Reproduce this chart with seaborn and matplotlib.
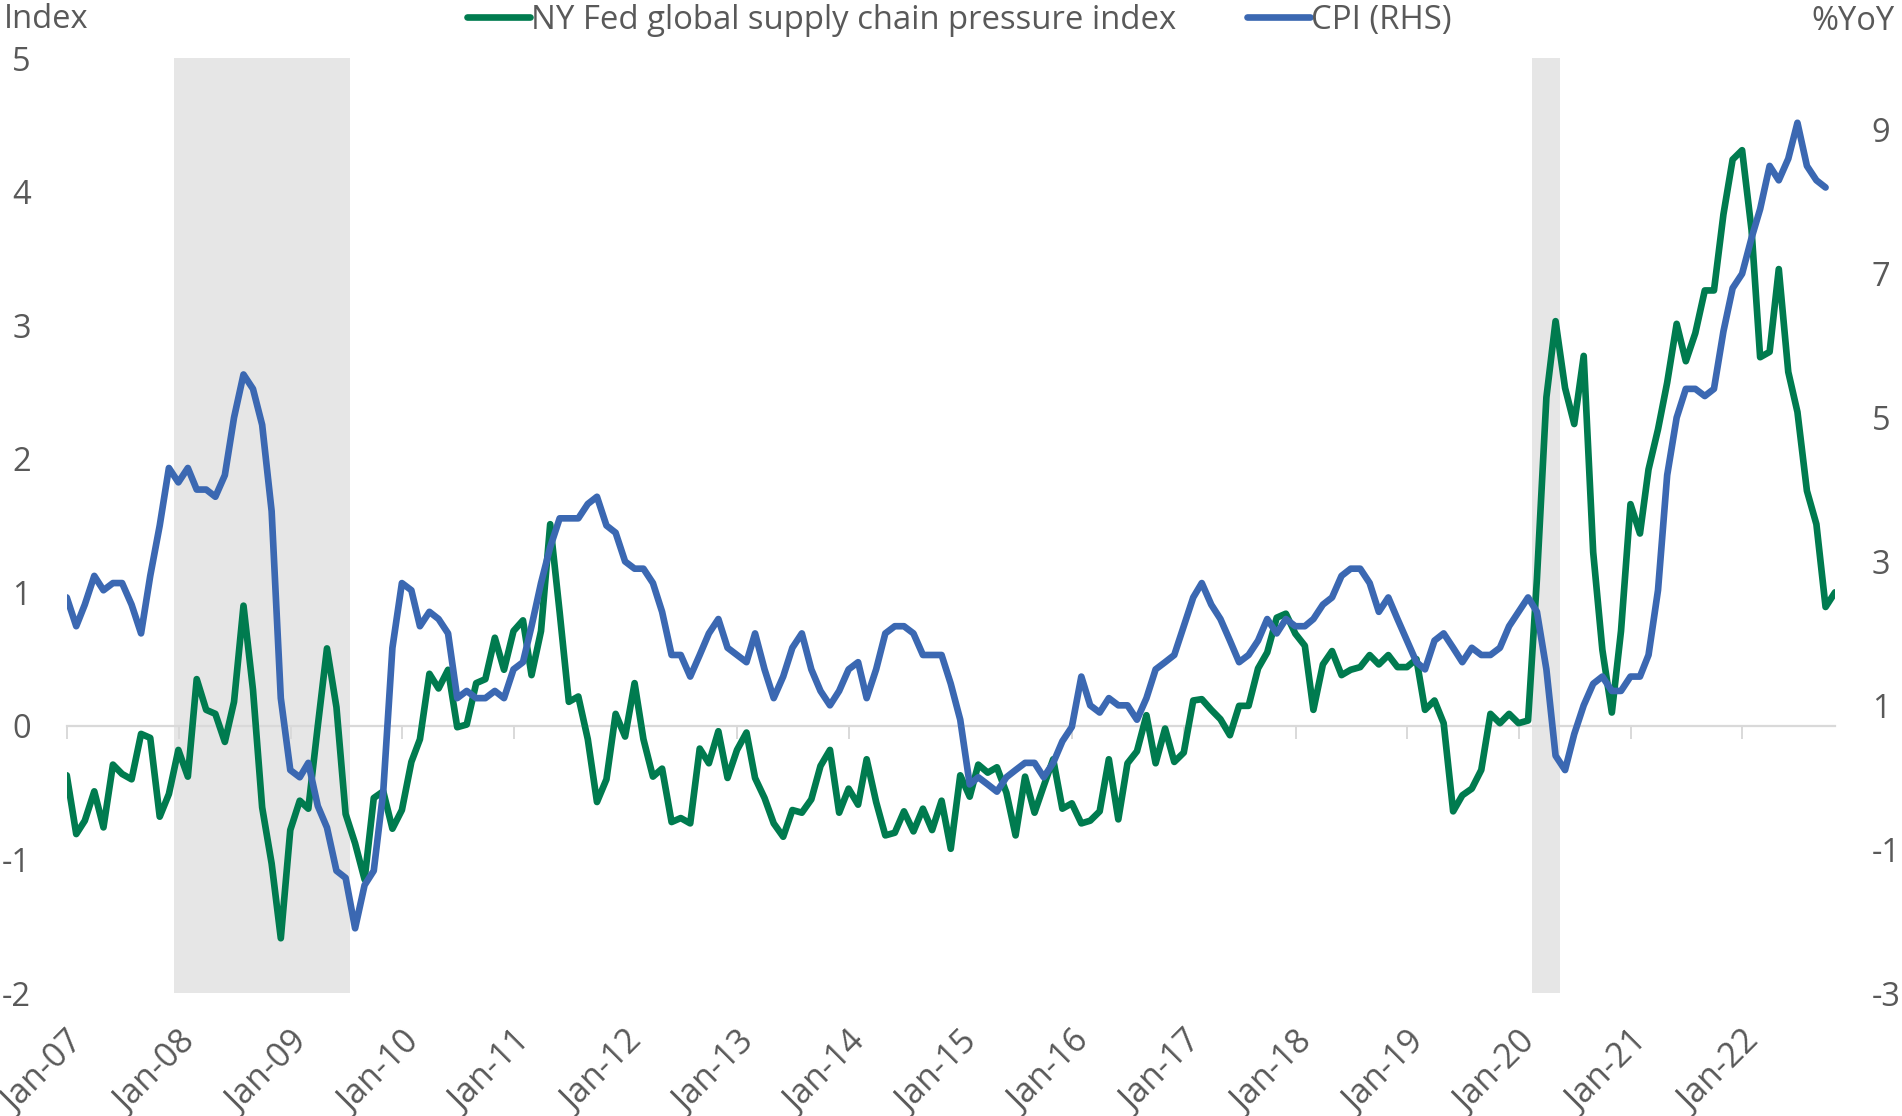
import numpy as np
import pandas as pd
import matplotlib
matplotlib.use("Agg")
import matplotlib.pyplot as plt
import matplotlib.dates as mdates
import seaborn as sns

# ---------------- data (monthly, first observation Dec-2006) ----------------
first_month_end = "2006-12-31"

gscpi = [
    -0.37, -0.81, -0.71, -0.49, -0.76, -0.29, -0.36, -0.40, -0.06, -0.09, -0.68, -0.51,
    -0.18, -0.38, 0.35, 0.12, 0.09, -0.12, 0.18, 0.90, 0.27, -0.61, -1.03, -1.59,
    -0.78, -0.56, -0.62, 0.00, 0.58, 0.14, -0.66, -0.88, -1.15, -0.54, -0.49, -0.77,
    -0.63, -0.27, -0.10, 0.39, 0.28, 0.42, -0.01, 0.01, 0.32, 0.35, 0.66, 0.42,
    0.71, 0.79, 0.38, 0.71, 1.51, 0.85, 0.18, 0.22, -0.10, -0.57, -0.40, 0.09,
    -0.08, 0.32, -0.10, -0.38, -0.32, -0.72, -0.69, -0.73, -0.17, -0.28, -0.04, -0.39,
    -0.18, -0.05, -0.39, -0.54, -0.73, -0.83, -0.63, -0.65, -0.55, -0.30, -0.18, -0.65,
    -0.47, -0.59, -0.25, -0.57, -0.82, -0.80, -0.64, -0.79, -0.62, -0.78, -0.56, -0.92,
    -0.37, -0.53, -0.29, -0.35, -0.31, -0.50, -0.82, -0.38, -0.65, -0.45, -0.25, -0.62,
    -0.58, -0.73, -0.71, -0.64, -0.25, -0.70, -0.28, -0.19, 0.08, -0.28, -0.02, -0.27,
    -0.20, 0.19, 0.20, 0.12, 0.05, -0.07, 0.15, 0.15, 0.43, 0.55, 0.81, 0.84,
    0.69, 0.60, 0.12, 0.46, 0.56, 0.38, 0.42, 0.44, 0.53, 0.46, 0.53, 0.44,
    0.44, 0.50, 0.12, 0.19, 0.02, -0.64, -0.52, -0.47, -0.33, 0.09, 0.02, 0.09,
    0.02, 0.04, 1.10, 2.46, 3.03, 2.53, 2.26, 2.77, 1.30, 0.57, 0.10, 0.71,
    1.66, 1.44, 1.92, 2.22, 2.57, 3.01, 2.73, 2.94, 3.26, 3.26, 3.83, 4.24,
    4.31, 3.71, 2.76, 2.80, 3.42, 2.65, 2.35, 1.76, 1.51, 0.89, 1.00,
]

cpi = [
    2.5,
    2.1, 2.4, 2.8, 2.6, 2.7, 2.7, 2.4, 2.0, 2.8, 3.5, 4.3, 4.1,
    4.3, 4.0, 4.0, 3.9, 4.2, 5.0, 5.6, 5.4, 4.9, 3.7, 1.1, 0.1,
    0.0, 0.2, -0.4, -0.7, -1.3, -1.4, -2.1, -1.5, -1.3, -0.2, 1.8, 2.7,
    2.6, 2.1, 2.3, 2.2, 2.0, 1.1, 1.2, 1.1, 1.1, 1.2, 1.1, 1.5,
    1.6, 2.1, 2.7, 3.2, 3.6, 3.6, 3.6, 3.8, 3.9, 3.5, 3.4, 3.0,
    2.9, 2.9, 2.7, 2.3, 1.7, 1.7, 1.4, 1.7, 2.0, 2.2, 1.8, 1.7,
    1.6, 2.0, 1.5, 1.1, 1.4, 1.8, 2.0, 1.5, 1.2, 1.0, 1.2, 1.5,
    1.6, 1.1, 1.5, 2.0, 2.1, 2.1, 2.0, 1.7, 1.7, 1.7, 1.3, 0.8,
    -0.1, 0.0, -0.1, -0.2, 0.0, 0.1, 0.2, 0.2, 0.0, 0.2, 0.5, 0.7,
    1.4, 1.0, 0.9, 1.1, 1.0, 1.0, 0.8, 1.1, 1.5, 1.6, 1.7, 2.1,
    2.5, 2.7, 2.4, 2.2, 1.9, 1.6, 1.7, 1.9, 2.2, 2.0, 2.2, 2.1,
    2.1, 2.2, 2.4, 2.5, 2.8, 2.9, 2.9, 2.7, 2.3, 2.5, 2.2, 1.9,
    1.6, 1.5, 1.9, 2.0, 1.8, 1.6, 1.8, 1.7, 1.7, 1.8, 2.1, 2.3,
    2.5, 2.3, 1.5, 0.3, 0.1, 0.6, 1.0, 1.3, 1.4, 1.2, 1.2, 1.4,
    1.4, 1.7, 2.6, 4.2, 5.0, 5.4, 5.4, 5.3, 5.4, 6.2, 6.8, 7.0,
    7.5, 7.9, 8.5, 8.3, 8.6, 9.1, 8.5, 8.3, 8.2,
]

recessions = [("2007-12", "2009-06"), ("2020-02", "2020-04")]
tick_years = list(range(2007, 2023))
tick_labels = [f"Jan-{y % 100:02d}" for y in tick_years]
left_ticks = [-2, -1, 0, 1, 2, 3, 4, 5]
right_ticks = [-3, -1, 1, 3, 5, 7, 9]

series_labels = ["NY Fed global supply chain pressure index", "CPI (RHS)"]

# ---------------- styling ----------------
GREEN = "#007b4f"
BLUE = "#3b68b2"
SHADE = "#e6e6e6"
TEXT = "#595959"
AXIS = "#d9d9d9"
LW = 4.8

sns.set_theme(style="white")
plt.rcParams["font.family"] = ["Open Sans", "DejaVu Sans"]

dates_g = pd.date_range(first_month_end, periods=len(gscpi), freq="ME")
dates_c = dates_g[: len(cpi)]
df_g = pd.DataFrame({"date": dates_g, "value": gscpi})
df_c = pd.DataFrame({"date": dates_c, "value": cpi})

fig = plt.figure(figsize=(19.02, 11.16), dpi=100)
ax = fig.add_axes([0.0351, 0.1102, 0.9297, 0.8378])
ax2 = ax.twinx()

half_month = pd.Timedelta(days=15.2)
for s, e in recessions:
    s_d = pd.Period(s, "M").to_timestamp(how="end").normalize() - half_month
    e_d = pd.Period(e, "M").to_timestamp(how="end").normalize() + half_month
    ax.axvspan(s_d, e_d, color=SHADE, lw=0, zorder=0)

sns.lineplot(data=df_g, x="date", y="value", ax=ax, color=GREEN, linewidth=LW,
             label=series_labels[0], zorder=3)
sns.lineplot(data=df_c, x="date", y="value", ax=ax2, color=BLUE, linewidth=LW,
             label=series_labels[1], zorder=3)

ax.set_xlim(dates_g[0], dates_g[-1])
ax.set_ylim(left_ticks[0], left_ticks[-1])
ax2.set_ylim(-3, 10)

for a in (ax, ax2):
    for sp in a.spines.values():
        sp.set_visible(False)
    a.set_xlabel("")
    a.set_ylabel("")
    a.grid(False)

tick_dates = pd.to_datetime([f"{y}-01-01" for y in tick_years])
ax.set_xticks(tick_dates)
ax.set_xticklabels(tick_labels, rotation=45, ha="right", va="top",
                   rotation_mode="anchor", color=TEXT, fontsize=24.5)
ax.tick_params(axis="x", length=0, pad=23)

ax.set_yticks(left_ticks)
ax.set_yticklabels([str(t) for t in left_ticks], color=TEXT, fontsize=23.5)
ax.tick_params(axis="y", length=0, pad=26)
ax2.set_yticks(right_ticks)
ax2.set_yticklabels([str(t) for t in right_ticks], color=TEXT, fontsize=23.5)
ax2.tick_params(axis="y", length=0, pad=26.5)

# zero line (category axis crossing at 0) with tick marks
zero_pos = (0 - left_ticks[0]) / (left_ticks[-1] - left_ticks[0])
secax = ax.secondary_xaxis(zero_pos)
secax.set_xticks(mdates.date2num(tick_dates), labels=[])
secax.spines["bottom"].set_color(AXIS)
secax.spines["bottom"].set_linewidth(1.6)
secax.tick_params(axis="x", direction="out", length=9, width=1.4, color=AXIS)

# legend
handles = ax.get_legend_handles_labels()[0] + ax2.get_legend_handles_labels()[0]
for a in (ax, ax2):
    if a.get_legend() is not None:
        a.get_legend().remove()
leg = fig.legend(handles, series_labels, loc="upper center", bbox_to_anchor=(0.5045, 1.023),
                 ncol=2, frameon=False, fontsize=23.7, handlelength=1.9,
                 handletextpad=0.05, columnspacing=2.15, labelcolor=TEXT)
for h in leg.get_lines():
    h.set_linewidth(LW)

fig.text(0.002, 1 - 28 / 1116, "Index", ha="left", va="baseline", color=TEXT, fontsize=23.5)
fig.text(0.9963, 1 - 30 / 1116, "%YoY", ha="right", va="baseline", color=TEXT, fontsize=23.5)

fig.savefig("out.png", dpi=100)
